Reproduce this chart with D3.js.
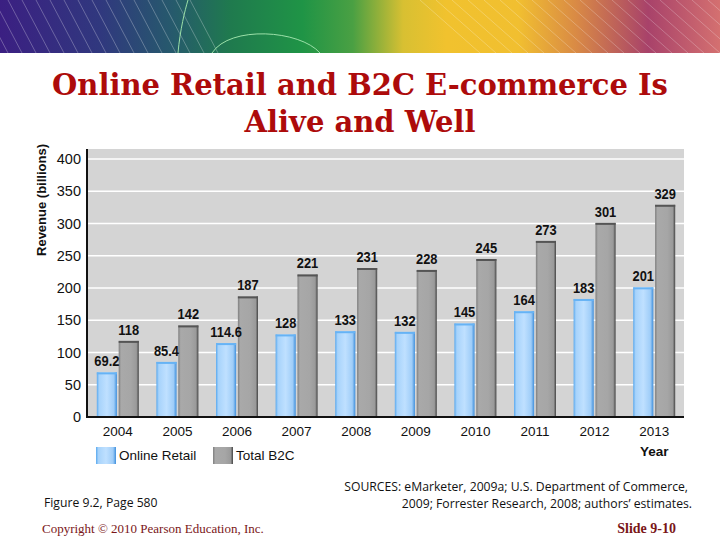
<!DOCTYPE html>
<html>
<head>
<meta charset="utf-8">
<script src="https://cdn.jsdelivr.net/npm/d3@7"></script>
<style>
  html, body { margin: 0; padding: 0; background: #fff; }
  svg { display: block; }
</style>
</head>
<body>
<div id="chart"></div>
<script>
// data
const years = ["2004", "2005", "2006", "2007", "2008", "2009", "2010", "2011", "2012", "2013"];
const onlineRetail = [69.2, 85.4, 114.6, 128, 133, 132, 145, 164, 183, 201];
const totalB2C = [118, 142, 187, 221, 231, 228, 245, 273, 301, 329];
const onlineLabels = ["69.2", "85.4", "114.6", "128", "133", "132", "145", "164", "183", "201"];
const totalLabels = ["118", "142", "187", "221", "231", "228", "245", "273", "301", "329"];
const yTicks = [0, 50, 100, 150, 200, 250, 300, 350, 400];
const seriesNames = ["Online Retail", "Total B2C"];

const W = 720, H = 540;
const svg = d3.select("#chart").append("svg")
    .attr("width", W)
    .attr("height", H);

const defs = svg.append("defs");

// banner gradient
const bannerGrad = defs.append("linearGradient")
    .attr("id", "banner")
    .attr("x1", "0%").attr("x2", "100%").attr("y1", "0%").attr("y2", "0%");
[
    ["0%", "#3b1f82"], ["14%", "#30387e"], ["24%", "#265a6c"], ["32%", "#1f7a4e"],
    ["42%", "#1f9446"], ["49%", "#4aa043"], ["56%", "#d8c032"], ["62%", "#f1c22e"],
    ["72%", "#f1bf30"], ["80%", "#d98a45"], ["90%", "#a8426a"], ["100%", "#d47070"]
].forEach(s => bannerGrad.append("stop").attr("offset", s[0]).attr("stop-color", s[1]));

svg.append("rect")
    .attr("x", 0).attr("y", 0)
    .attr("width", W).attr("height", 53)
    .attr("fill", "url(#banner)");

// fine diagonal lines across the banner
const bannerLines = svg.append("g").attr("clip-path", "url(#bannerClip)");
defs.append("clipPath").attr("id", "bannerClip")
    .append("rect").attr("width", W).attr("height", 53);
d3.range(-20, 200, 14).forEach(x0 => {
    bannerLines.append("line")
        .attr("x1", x0).attr("y1", 0).attr("x2", x0 + 28).attr("y2", 53)
        .attr("stroke", "#ffffff").attr("stroke-opacity", 0.35).attr("stroke-width", 0.8);
});
d3.range(420, 740, 16).forEach(x0 => {
    bannerLines.append("line")
        .attr("x1", x0).attr("y1", 0).attr("x2", x0 + 60).attr("y2", 53)
        .attr("stroke", "#ffffff").attr("stroke-opacity", 0.3).attr("stroke-width", 0.8);
});
bannerLines.append("path")
    .attr("d", "M178,53 C180,30 185,10 188,0")
    .attr("fill", "none").attr("stroke", "#9be0a8").attr("stroke-width", 1);
bannerLines.append("path")
    .attr("d", "M212,53 C230,25 300,30 320,53")
    .attr("fill", "none").attr("stroke", "#9be0a8").attr("stroke-width", 1);

// title
const title = svg.append("g")
    .attr("font-family", "'DejaVu Serif', Georgia, serif")
    .attr("font-weight", "bold")
    .attr("font-size", 29)
    .attr("fill", "#ad0b0b")
    .attr("text-anchor", "middle");
title.append("text").attr("x", 360).attr("y", 95).text("Online Retail and B2C E-commerce Is");
title.append("text").attr("x", 360).attr("y", 132).text("Alive and Well");

// chart scales
const plot = { left: 88, right: 684, top: 149, bottom: 417 };

const x0 = d3.scaleBand()
    .domain(years)
    .range([plot.left, plot.right]);

const x1 = d3.scaleBand()
    .domain(seriesNames)
    .range([x0.bandwidth() / 2 - 21, x0.bandwidth() / 2 + 21])
    .paddingInner(0.08);

const y = d3.scaleLinear()
    .domain([0, 400])
    .range([plot.bottom, 159]);

// plot background
svg.append("rect")
    .attr("x", plot.left).attr("y", plot.top)
    .attr("width", plot.right - plot.left).attr("height", plot.bottom - plot.top)
    .attr("fill", "#d4d4d4");

// gridlines
svg.append("g")
    .selectAll("line")
    .data(yTicks.slice(1))
    .join("line")
    .attr("x1", plot.left).attr("x2", plot.right)
    .attr("y1", d => y(d)).attr("y2", d => y(d))
    .attr("stroke", "#ffffff")
    .attr("stroke-width", 1.5);

// bar gradients
const blueGrad = defs.append("linearGradient").attr("id", "blueBar")
    .attr("x1", "0%").attr("x2", "100%");
[["0%", "#5aa9ee"], ["12%", "#a7d3fb"], ["50%", "#bfe0ff"], ["85%", "#9fcdf8"], ["100%", "#3f8fdc"]]
    .forEach(s => blueGrad.append("stop").attr("offset", s[0]).attr("stop-color", s[1]));

const grayGrad = defs.append("linearGradient").attr("id", "grayBar")
    .attr("x1", "0%").attr("x2", "100%");
[["0%", "#7f7f7f"], ["12%", "#a9a9a9"], ["60%", "#a6a6a6"], ["88%", "#9a9a9a"], ["100%", "#444444"]]
    .forEach(s => grayGrad.append("stop").attr("offset", s[0]).attr("stop-color", s[1]));

const rows = years.map((yr, i) => ({
    year: yr,
    vals: [
        { key: seriesNames[0], v: onlineRetail[i], label: onlineLabels[i] },
        { key: seriesNames[1], v: totalB2C[i], label: totalLabels[i] }
    ]
}));

const groups = svg.append("g")
    .selectAll("g")
    .data(rows)
    .join("g")
    .attr("transform", d => `translate(${x0(d.year)},0)`);

groups.selectAll("rect.bar")
    .data(d => d.vals)
    .join("rect")
    .attr("class", "bar")
    .attr("x", d => x1(d.key))
    .attr("y", d => y(d.v))
    .attr("width", x1.bandwidth())
    .attr("height", d => y(0) - y(d.v))
    .attr("fill", d => d.key === seriesNames[0] ? "url(#blueBar)" : "url(#grayBar)");

// top edge for each bar
groups.selectAll("line.cap")
    .data(d => d.vals)
    .join("line")
    .attr("class", "cap")
    .attr("x1", d => x1(d.key))
    .attr("x2", d => x1(d.key) + x1.bandwidth())
    .attr("y1", d => y(d.v) + 1)
    .attr("y2", d => y(d.v) + 1)
    .attr("stroke", d => d.key === seriesNames[0] ? "#66b3f5" : "#555555")
    .attr("stroke-width", 2);

// value labels (narrow bold type)
groups.selectAll("text.val")
    .data(d => d.vals)
    .join("text")
    .attr("class", "val")
    .attr("transform", d => `translate(${x1(d.key) + x1.bandwidth() / 2},${y(d.v) - 6}) scale(0.86,1)`)
    .attr("text-anchor", "middle")
    .attr("font-family", "'Liberation Sans', Arial, sans-serif")
    .attr("font-weight", "bold")
    .attr("font-size", 15)
    .attr("fill", "#111")
    .text(d => d.label);

// axes
const yAxis = svg.append("g")
    .attr("transform", `translate(${plot.left},0)`)
    .call(d3.axisLeft(y).tickValues(yTicks).tickSize(0).tickPadding(7));
yAxis.select(".domain").remove();
yAxis.selectAll("text")
    .attr("font-family", "'Liberation Sans', Arial, sans-serif")
    .attr("font-size", 14.5)
    .attr("fill", "#111");

const xAxis = svg.append("g")
    .attr("transform", `translate(0,${plot.bottom})`)
    .call(d3.axisBottom(x0).tickSize(0).tickPadding(9));
xAxis.select(".domain").remove();
xAxis.selectAll("text")
    .attr("font-family", "'Liberation Sans', Arial, sans-serif")
    .attr("font-size", 13.5)
    .attr("fill", "#111");

svg.append("line")
    .attr("x1", plot.left - 1).attr("x2", plot.left - 1)
    .attr("y1", plot.top).attr("y2", plot.bottom + 1)
    .attr("stroke", "#111").attr("stroke-width", 2);
svg.append("line")
    .attr("x1", plot.left - 2).attr("x2", plot.right)
    .attr("y1", plot.bottom).attr("y2", plot.bottom)
    .attr("stroke", "#111").attr("stroke-width", 2);

// axis titles
svg.append("text")
    .attr("transform", `translate(46,200) rotate(-90)`)
    .attr("text-anchor", "middle")
    .attr("font-family", "'Liberation Sans', Arial, sans-serif")
    .attr("font-weight", "bold")
    .attr("font-size", 13)
    .attr("fill", "#111")
    .text("Revenue (billions)");

svg.append("text")
    .attr("x", x0("2013") + x0.bandwidth() / 2)
    .attr("y", 456)
    .attr("text-anchor", "middle")
    .attr("font-family", "'Liberation Sans', Arial, sans-serif")
    .attr("font-weight", "bold")
    .attr("font-size", 13.5)
    .attr("fill", "#111")
    .text("Year");

// legend
const legend = svg.append("g")
    .selectAll("g")
    .data(seriesNames)
    .join("g")
    .attr("transform", (d, i) => `translate(${i === 0 ? 96 : 213},447)`);
legend.append("rect")
    .attr("width", 20).attr("height", 17)
    .attr("fill", (d, i) => i === 0 ? "url(#blueBar)" : "url(#grayBar)");
legend.append("text")
    .attr("x", 23).attr("y", 13)
    .attr("font-family", "'Liberation Sans', Arial, sans-serif")
    .attr("font-size", 13.5)
    .attr("fill", "#111")
    .text(d => d);

// footer
const note = svg.append("g")
    .attr("font-family", "'Open Sans', 'Noto Sans', sans-serif")
    .attr("font-size", 12.2)
    .attr("fill", "#111");
note.append("text").attr("x", 44).attr("y", 507).text("Figure 9.2, Page 580");
note.append("text").attr("x", 688).attr("y", 491).attr("text-anchor", "end")
    .text("SOURCES: eMarketer, 2009a; U.S. Department of Commerce,");
note.append("text").attr("x", 692).attr("y", 508).attr("text-anchor", "end")
    .text("2009; Forrester Research, 2008; authors\u2019 estimates.");

svg.append("text")
    .attr("x", 42).attr("y", 533)
    .attr("font-family", "'Liberation Serif', 'DejaVu Serif', serif")
    .attr("font-size", 13)
    .attr("fill", "#7a1618")
    .text("Copyright \u00a9 2010 Pearson Education, Inc.");

svg.append("text")
    .attr("x", 676).attr("y", 533)
    .attr("text-anchor", "end")
    .attr("font-family", "'Liberation Serif', 'DejaVu Serif', serif")
    .attr("font-weight", "bold")
    .attr("font-size", 14)
    .attr("fill", "#7a1618")
    .text("Slide 9-10");
</script>
</body>
</html>
